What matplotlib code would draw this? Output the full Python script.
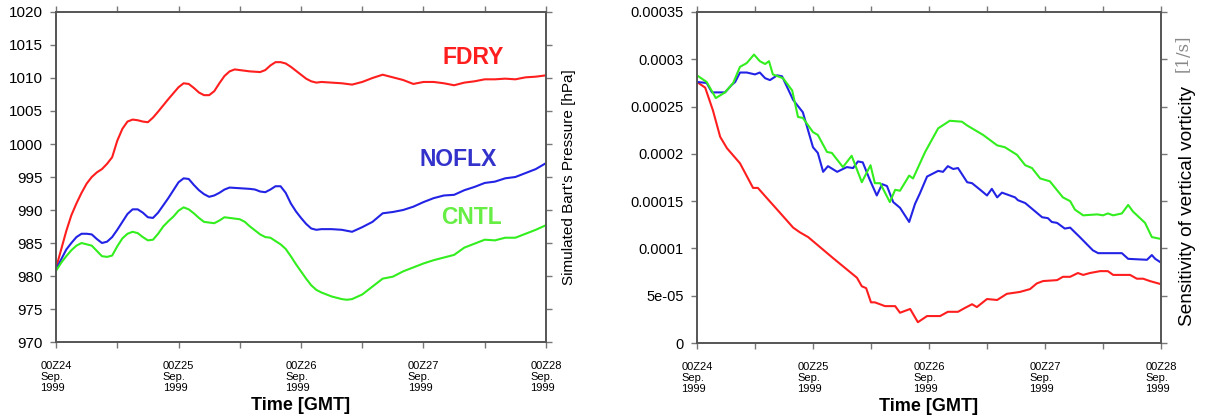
import numpy as np
import matplotlib
matplotlib.use('Agg')
import matplotlib.pyplot as plt

plt.rcParams['font.family'] = ['Liberation Sans', 'DejaVu Sans']

# left panel: simulated Bart's pressure [hPa], hours from 00Z24
fdry_h = [0, 1, 2, 3, 4, 5, 6, 7, 8, 9, 10, 11, 12, 13, 14, 15, 16, 17, 18, 19, 20, 22, 24, 25, 26, 27, 28, 29,
          30, 31, 32, 33, 34, 35, 36, 38, 40, 41, 42, 43, 44, 45, 46, 47, 48, 49, 50, 51, 52, 54, 56, 58, 60,
          62, 64, 66, 68, 70, 72, 74, 76, 78, 80, 82, 84, 86, 88, 90, 92, 94, 96]
fdry_p = [981.2, 984, 986.8, 989.2, 991, 992.6, 994, 995, 995.7, 996.2, 997, 998, 1000.5, 1002.3, 1003.4,
          1003.7, 1003.6, 1003.4, 1003.3, 1004, 1004.9, 1006.8, 1008.6, 1009.2, 1009.1, 1008.5, 1007.8, 1007.4,
          1007.4, 1008, 1009.2, 1010.3, 1011, 1011.3, 1011.2, 1011, 1010.9, 1011.2, 1011.9, 1012.4, 1012.4,
          1012.2, 1011.7, 1011.1, 1010.5, 1009.9, 1009.5, 1009.3, 1009.4, 1009.3, 1009.2, 1009, 1009.4, 1010,
          1010.5, 1010.1, 1009.7, 1009.1, 1009.4, 1009.4, 1009.2, 1008.9, 1009.3, 1009.5, 1009.8, 1009.8,
          1009.9, 1009.8, 1010.1, 1010.2, 1010.4]

noflx_h = [0, 1, 2, 3, 4, 5, 6, 7, 8, 9, 10, 11, 12, 13, 14, 15, 16, 17, 18, 19, 20, 21, 22, 23, 24, 25, 26,
           27, 28, 29, 30, 31, 32, 33, 34, 36, 38, 39, 40, 41, 42, 43, 44, 45, 46, 47, 48, 49, 50, 51, 52, 54,
           56, 58, 60, 62, 64, 66, 68, 70, 72, 74, 76, 78, 80, 82, 84, 86, 88, 90, 92, 94, 96]
noflx_p = [981, 982.5, 984, 985, 985.9, 986.4, 986.4, 986.3, 985.6, 985, 985.2, 985.9, 987, 988.2, 989.4,
           990.1, 990.1, 989.6, 988.9, 988.8, 989.6, 990.7, 991.8, 993, 994.2, 994.8, 994.7, 993.8, 993,
           992.4, 992, 992.2, 992.6, 993.1, 993.4, 993.3, 993.2, 993.1, 992.8, 992.7, 993.1, 993.6, 993.6,
           992.6, 991, 989.8, 988.8, 987.9, 987.2, 987, 987.1, 987.1, 987, 986.7, 987.4, 988.2, 989.5, 989.7,
           990, 990.5, 991.2, 991.8, 992.2, 992.3, 993, 993.5, 994.1, 994.3, 994.8, 995, 995.6, 996.2, 997.1]

cntl_h = [0, 1, 2, 3, 4, 5, 6, 7, 8, 9, 10, 11, 12, 13, 14, 15, 16, 17, 18, 19, 20, 21, 22, 23, 24, 25, 26,
          27, 28, 29, 30, 31, 32, 33, 34, 36, 37, 38, 39, 40, 41, 42, 43, 44, 45, 46, 47, 48, 49, 50, 51, 52,
          54, 56, 57, 58, 60, 62, 64, 66, 68, 70, 72, 74, 76, 78, 80, 82, 84, 86, 88, 90, 92, 94, 96]
cntl_p = [980.8, 982, 983, 983.9, 984.6, 985, 984.8, 984.6, 983.8, 983, 982.9, 983.1, 984.5, 985.7, 986.4,
          986.7, 986.5, 985.9, 985.4, 985.5, 986.4, 987.5, 988.3, 989, 989.9, 990.4, 990.1, 989.5, 988.8,
          988.2, 988.1, 988, 988.4, 988.9, 988.8, 988.6, 988.2, 987.5, 986.9, 986.3, 985.9, 985.8, 985.3,
          984.8, 984.1, 983, 981.8, 980.7, 979.6, 978.6, 977.9, 977.5, 976.9, 976.5, 976.4, 976.5, 977.2,
          978.4, 979.6, 979.9, 980.7, 981.3, 981.9, 982.4, 982.8, 983.2, 984.3, 984.9, 985.5, 985.4, 985.8,
          985.8, 986.4, 987, 987.7]

# right panel: sensitivity of vertical vorticity, in units of 1e-5 1/s
fdry_sh = [0, 1.7, 3.3, 4.8, 6.2, 8.9, 11.6, 12.6, 14.5, 16.6, 19.9, 21.3, 23, 28.1, 33.1, 34.1, 35, 36,
           36.8, 38.9, 41, 42, 44.1, 45.7, 47.6, 50.3, 51.9, 54, 55.4, 56.9, 57.9, 60, 62.1, 64.1, 66.8, 68.9,
           70.3, 71.6, 74.5, 75.7, 77.2, 78.8, 79.9, 81.3, 83.4, 85, 86.1, 89.6, 91, 92.3, 93.7, 95.8, 96]
fdry_s = [27.6, 27.0, 24.6, 21.8, 20.6, 19.0, 16.4, 16.4, 15.3, 14.1, 12.2, 11.7, 11.2, 9.0, 6.9, 6.0, 5.8,
          4.3, 4.3, 3.9, 3.9, 3.2, 3.6, 2.2, 2.85, 2.85, 3.3, 3.3, 3.7, 4.1, 3.8, 4.65, 4.55, 5.2, 5.4, 5.7,
          6.3, 6.55, 6.65, 7.0, 7.0, 7.4, 7.2, 7.4, 7.6, 7.6, 7.2, 7.2, 6.8, 6.8, 6.55, 6.25, 6.2]

noflx_sh = [0, 2, 3.1, 5.8, 7.2, 7.9, 8.9, 10.3, 12, 13, 14.1, 15.1, 16.6, 17.6, 19.9, 21.9, 24, 25, 26.1,
            27.1, 29, 31, 32.3, 33.3, 34.3, 35.8, 37.2, 38.3, 39.3, 40.6, 42, 43.9, 45.1, 46.1, 47.6, 49.9,
            50.9, 51.9, 53, 54, 55.9, 56.9, 58.6, 60, 61, 62.1, 63.1, 65.8, 66.4, 67.9, 69.3, 71.4, 72.6,
            73.4, 74.5, 76.1, 77.2, 79.2, 81.9, 83, 84.8, 87.9, 89.2, 93.1, 94.1, 94.8, 96]
noflx_s = [27.6, 27.5, 26.5, 26.5, 27.3, 27.6, 28.6, 28.6, 28.4, 28.6, 28.0, 27.8, 28.3, 28.2, 25.7, 24.4,
           20.7, 20.1, 18.1, 18.7, 18.1, 18.6, 18.5, 19.2, 19.1, 17.2, 15.6, 16.8, 16.6, 14.9, 14.3, 12.8,
           14.7, 15.8, 17.6, 18.2, 18.1, 18.7, 18.4, 18.5, 17.0, 16.9, 16.2, 15.6, 16.3, 15.4, 15.9, 15.4,
           15.1, 14.8, 14.2, 13.3, 13.2, 12.8, 12.7, 12.1, 12.2, 11.2, 9.8, 9.5, 9.5, 9.5, 8.9, 8.8, 9.3,
           8.9, 8.5]

cntl_sh = [0, 2, 3.9, 5.8, 7.5, 8.9, 10.3, 11.8, 13, 14.1, 14.9, 15.7, 17.8, 19.7, 20.9, 21.9, 24, 25, 26.9,
           27.9, 30.2, 32, 34.1, 35.9, 36.8, 37.9, 39.9, 41, 42, 43.9, 44.7, 47.2, 49.9, 52.3, 54.8, 55.9,
           59.2, 62.1, 63.7, 66.2, 67.9, 69.3, 71, 73, 75.7, 77.2, 78.2, 79.9, 82.8, 84, 85, 86.1, 87.9, 89.2,
           90.2, 92.7, 94.1, 96]
cntl_s = [28.3, 27.6, 25.9, 26.5, 27.5, 29.2, 29.6, 30.5, 29.8, 29.5, 29.8, 28.4, 28.0, 26.7, 23.9, 23.8,
          22.3, 22.0, 20.2, 20.1, 18.6, 19.8, 17.0, 18.8, 16.9, 16.9, 14.9, 16.2, 16.1, 17.7, 17.4, 20.2,
          22.7, 23.5, 23.4, 23.0, 22.0, 20.9, 20.7, 19.9, 18.8, 18.5, 17.4, 17.1, 15.4, 15.0, 14.1, 13.5,
          13.6, 13.5, 13.7, 13.5, 13.7, 14.6, 13.9, 12.7, 11.2, 11.0]

day_ticks = [0, 24, 48, 72, 96]
day_labels = ['00Z24\nSep.\n1999', '00Z25\nSep.\n1999', '00Z26\nSep.\n1999',
              '00Z27\nSep.\n1999', '00Z28\nSep.\n1999']
half_day_ticks = [12, 36, 60, 84]

RED = '#ff1e1e'
BLUE = '#2323e6'
GREEN = '#33ee1e'
FRAME = '#555555'

fig = plt.figure(figsize=(12.05, 4.18), dpi=100)
ax1 = fig.add_axes([0.0465, 0.1818, 0.4066, 0.7895])
ax2 = fig.add_axes([0.5784, 0.1794, 0.3851, 0.7919])


def style_axes(ax):
    for s in ax.spines.values():
        s.set_color(FRAME)
        s.set_linewidth(1.4)
    ax.set_xlim(0, 96)
    ax.set_xticks(day_ticks)
    ax.set_xticklabels(day_labels, fontsize=8, multialignment='left', linespacing=1.15)
    ax.set_xticks(half_day_ticks, minor=True)
    ax.tick_params(axis='both', which='both', direction='out', color='#777777',
                   length=4.5, width=1.0, top=True, right=True)
    ax.tick_params(axis='x', which='both', pad=9)
    ax.tick_params(axis='y', labelsize=11, pad=5)
    ax.set_xlabel('Time [GMT]', fontsize=13, fontweight='bold', labelpad=3)


ax1.plot(fdry_h, fdry_p, color=RED, lw=1.5)
ax1.plot(noflx_h, noflx_p, color=BLUE, lw=1.5)
ax1.plot(cntl_h, cntl_p, color=GREEN, lw=1.5)
style_axes(ax1)
ax1.set_ylim(970, 1020)
ax1.set_yticks(np.arange(970, 1021, 5))
ax1.yaxis.set_label_position('right')
ax1.set_ylabel("Simulated Bart's Pressure [hPa]", fontsize=11, labelpad=7)
ax1.text(81.7, 1013.1, 'FDRY', color=RED, fontsize=16.5, fontweight='bold', ha='center', va='center')
ax1.text(78.8, 997.6, 'NOFLX', color='#3333cc', fontsize=16.5, fontweight='bold', ha='center', va='center')
ax1.text(81.5, 988.8, 'CNTL', color='#66ee44', fontsize=16.5, fontweight='bold', ha='center', va='center')

ax2.plot(fdry_sh, np.array(fdry_s) * 1e-5, color=RED, lw=1.5)
ax2.plot(noflx_sh, np.array(noflx_s) * 1e-5, color=BLUE, lw=1.5)
ax2.plot(cntl_sh, np.array(cntl_s) * 1e-5, color=GREEN, lw=1.5)
style_axes(ax2)
ax2.set_ylim(0, 0.00035)
yt = [0, 5e-05, 0.0001, 0.00015, 0.0002, 0.00025, 0.0003, 0.00035]
ax2.set_yticks(yt)
ax2.set_yticklabels(['0', '5e-05', '0.0001', '0.00015', '0.0002', '0.00025', '0.0003', '0.00035'],
                    fontsize=10.5)
ax2.yaxis.set_label_position('right')
ax2.set_ylabel('Sensitivity of vertical vorticity', fontsize=13.7)
ax2.yaxis.set_label_coords(1.038, 0.415)
fig.text(0.9815, 0.873, '[1/s]', rotation=90, color='#888888', fontsize=12,
         family='DejaVu Serif', ha='center', va='center')

fig.savefig('out.png', dpi=100)
